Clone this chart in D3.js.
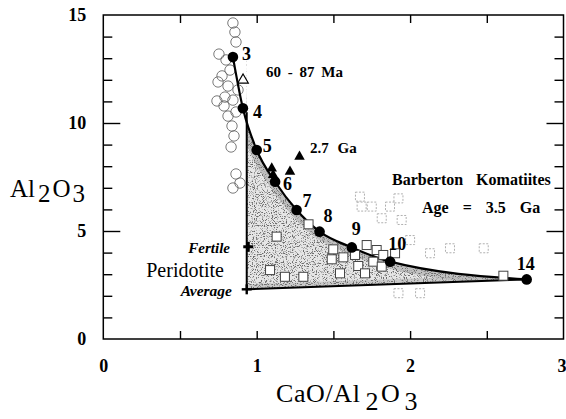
<!DOCTYPE html>
<html>
<head>
<meta charset="utf-8">
<script src="https://cdn.jsdelivr.net/npm/d3@7"></script>
<style>
  html, body { margin: 0; padding: 0; background: #fff; }
  svg { display: block; font-family: "Liberation Serif", "Times New Roman", serif; }
</style>
</head>
<body>
<svg id="chart" width="566" height="419"></svg>
<script>
// Melting path, labelled by pressure (GPa)
const meltPressure = ["3", "4", "5", "6", "7", "8", "9", "10", "14"];
const meltCaOAl    = [0.845, 0.91, 1.0, 1.12, 1.26, 1.41, 1.62, 1.87, 2.76];
const meltAl       = [13.05, 10.68, 8.75, 7.28, 5.97, 4.97, 4.24, 3.58, 2.76];

// 60 - 87 Ma komatiites (open circles)
const youngCaOAl = [0.845, 0.858, 0.865, 0.754, 0.80, 0.826, 0.774, 0.748, 0.813, 0.878,
                    0.793, 0.741, 0.845, 0.787, 0.865, 0.813, 0.839, 0.852, 0.833, 0.865,
                    0.891, 0.845];
const youngAl    = [14.63, 14.21, 13.75, 13.19, 12.92, 12.45, 12.18, 11.90, 11.71, 11.53,
                    11.20, 11.02, 11.06, 10.79, 10.51, 10.32, 9.86, 9.40, 8.89, 7.64,
                    7.22, 6.99];

// 2.7 Ga komatiites (filled triangles)
const lateArcheanCaOAl = [1.098, 1.107, 1.217, 1.279];
const lateArcheanAl    = [7.90, 7.59, 7.75, 8.44];

// Single open triangle on the upper path
const openTriCaOAl = [0.911];
const openTriAl    = [11.99];

// Barberton komatiites, 3.5 Ga (open squares)
const barbertonCaOAl = [1.338, 1.130, 1.499, 1.489, 1.565, 1.662, 1.543, 1.641, 1.717, 1.706,
                        1.782, 1.760, 1.825, 1.902, 1.815, 1.087, 1.184, 1.304, 2.608];
const barbertonAl    = [5.31, 4.74, 4.15, 3.69, 3.78, 3.38, 3.04, 3.89, 4.35, 3.04,
                        4.12, 3.58, 3.89, 3.97, 3.35, 3.19, 2.88, 2.88, 2.93];
// Barberton samples printed faintly
const barbertonFaintCaOAl = [1.750, 1.684, 1.869, 1.924, 1.815, 1.945, 2.00, 2.13, 2.26, 2.48,
                             1.924, 2.065, 1.673];
const barbertonFaintAl    = [6.13, 6.13, 6.13, 6.51, 5.59, 5.51, 4.58, 3.97, 4.20, 4.20,
                             2.12, 2.12, 6.59];

// Fertile peridotite average
const peridotiteLabels = ["Fertile", "Average"];
const peridotiteCaOAl  = [0.945, 0.935];
const peridotiteAl     = [4.27, 2.30];

const xTickLabels = [0, 1, 2, 3];
const yTickLabels = [0, 5, 10, 15];

const svg = d3.select("#chart");
const x = d3.scaleLinear().domain([0, 3]).range([103.3, 563.5]);
const y = d3.scaleLinear().domain([0, 15]).range([339, 15]);
const X0 = x(0), X1 = x(3), Y0 = y(0), Y1 = y(15);

const defs = svg.append("defs");
// speckle texture for the melting field
const grain = defs.append("filter").attr("id", "grain")
  .attr("x", 0).attr("y", 0).attr("width", 1).attr("height", 1);
grain.append("feTurbulence").attr("type", "fractalNoise")
  .attr("baseFrequency", 0.9).attr("numOctaves", 2).attr("seed", 11);
grain.append("feColorMatrix").attr("type", "matrix")
  .attr("values", "0 0 0 0 0.15  0 0 0 0 0.15  0 0 0 0 0.15  -6 0 0 0 2.85");

const meltPts = meltCaOAl.map((v, i) => [x(v), y(meltAl[i])]);
const curve = d3.line().curve(d3.curveMonotoneX);
const vertX = x(peridotiteCaOAl[1]);
const avgPt = [vertX, y(peridotiteAl[1])];

// shaded field: below the melting curve, right of the vertical line, above the base line
const fieldPath = curve(meltPts) + `L${avgPt[0]},${avgPt[1]}L${vertX},${meltPts[0][1]}Z`;
defs.append("clipPath").attr("id", "fieldClip").append("path").attr("d", fieldPath);
defs.append("clipPath").attr("id", "rightClip").append("rect")
  .attr("x", vertX).attr("y", Y1).attr("width", X1 - vertX).attr("height", Y0 - Y1);

const field = svg.append("g").attr("clip-path", "url(#rightClip)")
  .append("g").attr("clip-path", "url(#fieldClip)");
field.append("rect").attr("x", vertX).attr("y", Y1).attr("width", X1 - vertX).attr("height", Y0 - Y1)
  .attr("fill", "#e6e6e6");
// denser stipple hugging the curve and the base line
field.append("path").attr("d", curve(meltPts)).attr("fill", "none")
  .attr("stroke", "#a8a8a8").attr("stroke-width", 14).attr("stroke-opacity", 0.6);
field.append("line").attr("x1", avgPt[0]).attr("y1", avgPt[1])
  .attr("x2", meltPts[meltPts.length - 1][0]).attr("y2", meltPts[meltPts.length - 1][1])
  .attr("stroke", "#b8b8b8").attr("stroke-width", 10).attr("stroke-opacity", 0.6);
field.append("rect").attr("x", vertX).attr("y", Y1).attr("width", X1 - vertX).attr("height", Y0 - Y1)
  .attr("filter", "url(#grain)");

// frame and ticks
svg.append("rect").attr("x", X0).attr("y", Y1).attr("width", X1 - X0).attr("height", Y0 - Y1)
  .attr("fill", "none").attr("stroke", "#000").attr("stroke-width", 1.5);

function styleAxis(g) {
  g.select(".domain").remove();
  g.selectAll(".tick line").attr("stroke", "#000").attr("stroke-width", 1.4);
}
const xMinor = d3.range(0.5, 3, 0.5);
svg.append("g").attr("transform", `translate(0,${Y0})`)
  .call(d3.axisBottom(x).tickValues(xMinor).tickSize(-8).tickFormat(""))
  .call(styleAxis);
svg.append("g").attr("transform", `translate(0,${Y1})`)
  .call(d3.axisTop(x).tickValues(xMinor).tickSize(-8).tickFormat(""))
  .call(styleAxis);
const yMinor = d3.range(1, 15).filter(v => v % 5 !== 0);
svg.append("g").attr("transform", `translate(${X0},0)`)
  .call(d3.axisLeft(y).tickValues(yMinor).tickSize(-9).tickFormat("")).call(styleAxis);
svg.append("g").attr("transform", `translate(${X1},0)`)
  .call(d3.axisRight(y).tickValues(yMinor).tickSize(-9).tickFormat("")).call(styleAxis);
svg.append("g").attr("transform", `translate(${X1},0)`)
  .call(d3.axisRight(y).tickValues([5, 10]).tickSize(-17).tickFormat("")).call(styleAxis);

const yAxis = svg.append("g").attr("transform", `translate(${X0},0)`)
  .call(d3.axisLeft(y).tickValues(yTickLabels).tickSize(-17).tickPadding(17).tickFormat(d3.format("d")))
  .call(styleAxis);
yAxis.selectAll(".tick").filter(d => d === 0 || d === 15).select("line").remove();
yAxis.selectAll("text").attr("font-family", "Liberation Serif").attr("font-size", 18)
  .attr("font-weight", "bold").attr("fill", "#000");

const xAxis = svg.append("g").attr("transform", `translate(0,${Y0})`)
  .call(d3.axisBottom(x).tickValues(xTickLabels).tickSize(0).tickPadding(20).tickFormat(d3.format("d")))
  .call(styleAxis);
xAxis.selectAll("text").attr("font-family", "Liberation Serif").attr("font-size", 18)
  .attr("font-weight", "bold").attr("fill", "#000");
// last label sits against the right edge of the page
xAxis.selectAll(".tick").filter(d => d === 3).select("text").attr("text-anchor", "end").attr("x", 2.5);

// axis titles with lowered subscripts
const yTitle = svg.append("text").attr("x", 10).attr("y", 197)
  .attr("font-size", 25).attr("fill", "#000");
yTitle.append("tspan").text("Al");
yTitle.append("tspan").attr("dx", 3).attr("dy", 5).text("2");
yTitle.append("tspan").attr("dx", 2).attr("dy", -5).text("O");
yTitle.append("tspan").attr("dx", 2).attr("dy", 5).text("3");

const xTitle = svg.append("text").attr("x", 276).attr("y", 402)
  .attr("font-size", 26).attr("letter-spacing", 0.6).attr("fill", "#000");
xTitle.append("tspan").text("CaO/Al");
xTitle.append("tspan").attr("dx", 5).attr("dy", 8).text("2");
xTitle.append("tspan").attr("dx", 2).attr("dy", -8).text("O");
xTitle.append("tspan").attr("dx", 4).attr("dy", 8).text("3");

// 60 - 87 Ma circles
svg.append("g").selectAll("circle").data(youngCaOAl).join("circle")
  .attr("cx", d => x(d)).attr("cy", (d, i) => y(youngAl[i])).attr("r", 5.2)
  .attr("fill", "none").attr("stroke", "#6a6a6a").attr("stroke-width", 0.9);

// vertical line and base line of the field
svg.append("line").attr("x1", vertX).attr("x2", vertX)
  .attr("y1", avgPt[1]).attr("y2", y(10.5))
  .attr("stroke", "#000").attr("stroke-width", 2);
svg.append("line").attr("x1", avgPt[0]).attr("y1", avgPt[1])
  .attr("x2", meltPts[meltPts.length - 1][0]).attr("y2", meltPts[meltPts.length - 1][1])
  .attr("stroke", "#000").attr("stroke-width", 2);
// melting curve
svg.append("path").attr("d", curve(meltPts)).attr("fill", "none")
  .attr("stroke", "#000").attr("stroke-width", 2.2);

// faint Barberton squares
const sq = 9;
svg.append("g").selectAll("rect").data(barbertonFaintCaOAl).join("rect")
  .attr("x", d => x(d) - sq / 2).attr("y", (d, i) => y(barbertonFaintAl[i]) - sq / 2)
  .attr("width", sq).attr("height", sq).attr("fill", "none")
  .attr("stroke", "#b0b0b0").attr("stroke-width", 1).attr("stroke-dasharray", "2,1.5");
// Barberton squares
svg.append("g").selectAll("rect").data(barbertonCaOAl).join("rect")
  .attr("x", d => x(d) - sq / 2).attr("y", (d, i) => y(barbertonAl[i]) - sq / 2)
  .attr("width", sq).attr("height", sq).attr("fill", "#fff")
  .attr("stroke", "#444").attr("stroke-width", 1);

// 2.7 Ga triangles
const tri = d3.symbol().type(d3.symbolTriangle).size(48);
svg.append("g").selectAll("path").data(lateArcheanCaOAl).join("path")
  .attr("d", tri).attr("transform", (d, i) => `translate(${x(d)},${y(lateArcheanAl[i])})`)
  .attr("fill", "#000");
svg.append("g").selectAll("path").data(openTriCaOAl).join("path")
  .attr("d", tri).attr("transform", (d, i) => `translate(${x(d)},${y(openTriAl[i])})`)
  .attr("fill", "none").attr("stroke", "#000").attr("stroke-width", 1.2);

// melting path points and pressure labels
svg.append("g").selectAll("circle").data(meltPts).join("circle")
  .attr("cx", d => d[0]).attr("cy", d => d[1]).attr("r", 5.3).attr("fill", "#000");
const labelOffset = [[9, 3], [10, 10], [6, 2], [8, 8], [6, -3], [4, -10], [0, -12], [-2, -12], [-10, -9]];
svg.append("g").selectAll("text").data(meltPressure).join("text")
  .attr("x", (d, i) => meltPts[i][0] + labelOffset[i][0])
  .attr("y", (d, i) => meltPts[i][1] + labelOffset[i][1])
  .attr("font-size", 18).attr("font-weight", "bold").attr("fill", "#000").text(d => d);

// peridotite crosses
const cross = (g, px, py, w) => {
  g.append("line").attr("x1", px - 5).attr("x2", px + 5).attr("y1", py).attr("y2", py);
  g.append("line").attr("x1", px).attr("x2", px).attr("y1", py - 5).attr("y2", py + 5);
  g.attr("stroke", "#000").attr("stroke-width", w);
};
peridotiteCaOAl.forEach((v, i) => cross(svg.append("g"), x(v), y(peridotiteAl[i]), i === 0 ? 3 : 2.4));

// annotations
const note = (tx, ty, txt, size, opts = {}) => svg.append("text").attr("x", tx).attr("y", ty)
  .attr("font-size", size).attr("font-weight", opts.weight || "bold")
  .attr("font-style", opts.style || "normal").attr("text-anchor", opts.anchor || "start")
  .attr("word-spacing", opts.ws || 0).attr("fill", "#000").text(txt);
note(266, 77, "60 - 87 Ma", 15, { ws: 3 });
note(310, 153, "2.7 Ga", 15, { ws: 5 });
note(392, 185, "Barberton Komatiites", 16, { ws: 9 });
note(422, 213, "Age = 3.5 Ga", 16, { ws: 10 });
note(230, 253, peridotiteLabels[0], 15, { style: "italic", anchor: "end" });
note(224, 277, "Peridotite", 20, { weight: "normal", anchor: "end" });
note(232, 296, peridotiteLabels[1], 15.5, { style: "italic", anchor: "end" });
</script>
</body>
</html>
